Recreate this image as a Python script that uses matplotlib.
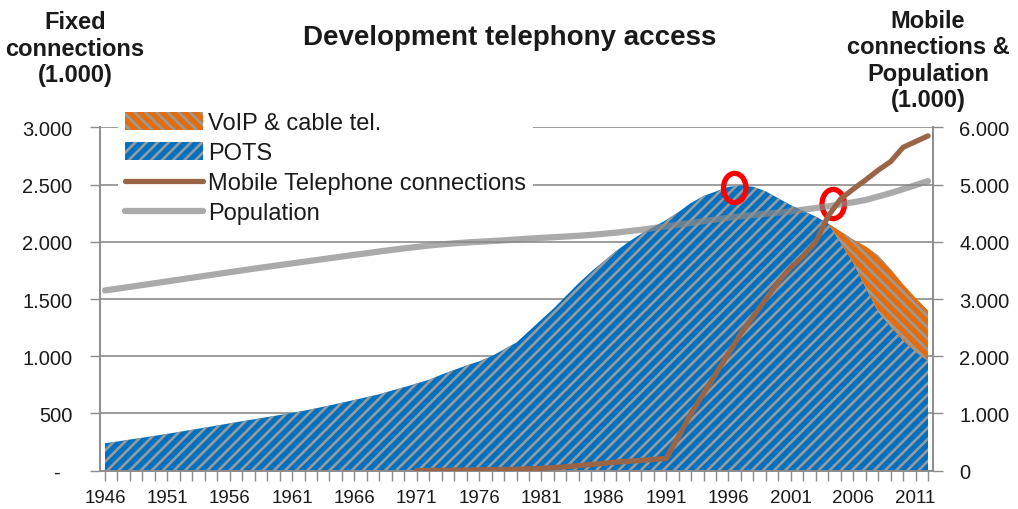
import numpy as np
import matplotlib
matplotlib.use("Agg")
import matplotlib.pyplot as plt
from matplotlib.patches import Ellipse
from matplotlib.ticker import FuncFormatter, MultipleLocator, FixedLocator

plt.rcParams['font.family'] = ['Liberation Sans', 'DejaVu Sans']
plt.rcParams['hatch.color'] = '#9A9A9A'
plt.rcParams['hatch.linewidth'] = 1.9

years = list(range(1946, 2013))

# Fixed lines: plain old telephone service (thousands)
pots = [240, 255, 272, 288, 305, 322, 340, 358, 376, 395,
        414, 432, 450, 468, 486, 504, 525, 547, 570, 594,
        618, 643, 668, 700, 730, 762, 795, 840, 880, 920,
        955, 1000, 1060, 1120, 1220, 1320, 1420, 1530, 1640, 1740,
        1830, 1920, 2000, 2070, 2130, 2190, 2260, 2340, 2400, 2440,
        2480, 2492, 2480, 2440, 2380, 2320, 2270, 2220, 2160, 1990,
        1820, 1600, 1390, 1260, 1140, 1040, 960]

# VoIP & cable telephony (thousands), reported from 2004 onwards
voip_years = list(range(2004, 2013))
voip = [0, 100, 200, 360, 490, 500, 490, 470, 440]

# Mobile telephone connections (thousands), from 1971
mobile_years = list(range(1971, 2013))
mobile = [0, 3, 6, 9, 12, 15, 18, 22, 27, 33,
          40, 55, 70, 90, 110, 130, 150, 165, 180, 198,
          215, 600, 1000, 1350, 1700, 2050, 2400, 2700, 3000, 3300,
          3550, 3750, 4000, 4450, 4750, 4920, 5080, 5250, 5400, 5650,
          5750, 5850]

# Population (thousands)
population = [3150, 3180, 3212, 3244, 3276, 3308, 3340, 3372, 3404, 3436,
              3468, 3500, 3532, 3562, 3592, 3622, 3652, 3682, 3712, 3742,
              3772, 3800, 3830, 3858, 3885, 3910, 3935, 3955, 3972, 3988,
              4000, 4012, 4025, 4040, 4055, 4068, 4080, 4092, 4105, 4120,
              4140, 4160, 4185, 4210, 4240, 4270, 4300, 4330, 4360, 4390,
              4420, 4445, 4470, 4490, 4510, 4530, 4560, 4590, 4620, 4655,
              4690, 4730, 4790, 4850, 4920, 4990, 5060]

# Highlighted moments: fixed-line peak and mobile overtaking fixed
highlight_years = [1996.5, 2004.4]
highlight_fixed = [2470, 2330]

year_labels = [str(y) for y in range(1946, 2013, 5)]

BLUE = '#0070C0'
ORANGE = '#E46C0A'
BROWN = '#9A6546'
GRID = '#8C8C8C'
TEXT = '#1A1A1A'

fig = plt.figure(figsize=(10.18, 5.10), dpi=100)
ax = fig.add_axes([100 / 1018, (510 - 471.7) / 510, (933 - 100) / 1018, (471.7 - 128.3) / 510])
ax2 = ax.twinx()

pots_arr = np.array(pots, dtype=float)
yrs = np.array(years)
ax.fill_between(yrs, 0, pots_arr, facecolor=BLUE, edgecolor='#9A9A9A', linewidth=0,
                hatch='///', label='POTS', zorder=2)
base = pots_arr[yrs >= 2004]
ax.fill_between(voip_years, base, base + np.array(voip), facecolor=ORANGE,
                edgecolor='#9A9A9A', linewidth=0, hatch='\\\\\\', label='VoIP & cable tel.', zorder=2)

for hx, hy in zip(highlight_years, highlight_fixed):
    ax.add_patch(Ellipse((hx, hy), 1.8, 255, fill=False, edgecolor='#FF0000',
                         linewidth=3.8, zorder=6))

ax.set_xlim(1945.6, 2012.4)
ax.set_ylim(0, 3000)
ax2.set_ylim(0, 6000)

mob_line, = ax2.plot(mobile_years, mobile, color=BROWN, linewidth=3.8,
                     solid_capstyle='round', label='Mobile Telephone connections', zorder=3)
pop_line, = ax2.plot(years, population, color='#8A8A8A', alpha=0.72, linewidth=4.5,
                     solid_capstyle='round', label='Population', zorder=2)

# Axes styling
for a in (ax, ax2):
    a.spines['top'].set_visible(False)
    for s in ('left', 'right', 'bottom'):
        a.spines[s].set_color(GRID)
        a.spines[s].set_linewidth(1.2)

ax.yaxis.set_major_locator(MultipleLocator(500))
ax.yaxis.set_major_formatter(FuncFormatter(
    lambda v, p: '-  ' if v == 0 else f'{int(v):,}'.replace(',', '.')))
ax2.yaxis.set_major_locator(MultipleLocator(1000))
ax2.yaxis.set_major_formatter(FuncFormatter(
    lambda v, p: f'{int(v):,}'.replace(',', '.')))

ax.grid(axis='y', color=GRID, linewidth=1.2, zorder=0)
ax.set_axisbelow(True)

ax.xaxis.set_major_locator(FixedLocator(list(range(1946, 2013, 5))))
ax.set_xticklabels(year_labels)
ax.xaxis.set_minor_locator(FixedLocator(years))
ax.tick_params(axis='x', which='both', direction='out', length=7, width=1, color=GRID,
               labelsize=13.5, pad=6, labelcolor=TEXT)
ax.tick_params(axis='y', direction='out', length=7, width=1, color=GRID,
               labelsize=14.5, pad=13, labelcolor=TEXT)
ax2.tick_params(axis='y', direction='out', length=7, width=1, color=GRID,
                labelsize=14.5, pad=12, labelcolor=TEXT)

# Legend
h1, l1 = ax.get_legend_handles_labels()
handles = [h1[1], h1[0], mob_line, pop_line]
labels = [l1[1], l1[0], 'Mobile Telephone connections', 'Population']
leg = ax2.legend(handles, labels, loc='upper left',
                 bbox_to_anchor=(118 / 1018, 1 - 106 / 510), bbox_transform=fig.transFigure,
                 frameon=True, facecolor='white', edgecolor='none', framealpha=1,
                 fontsize=17, handlelength=3.3, handleheight=0.8, handletextpad=0.2,
                 labelspacing=0.33, borderpad=0.3, borderaxespad=0)
for t in leg.get_texts():
    t.set_color(TEXT)

fig.text(510 / 1018, 1 - 38 / 510, 'Development telephony access', ha='center', va='center',
         fontsize=20, fontweight='bold', color=TEXT)
fig.text(75 / 1018, 1 - 49 / 510, 'Fixed\nconnections\n(1.000)', ha='center', va='center',
         fontsize=17, fontweight='bold', color=TEXT, linespacing=1.17)
fig.text(928 / 1018, 1 - 61 / 510, 'Mobile\nconnections &\nPopulation\n(1.000)', ha='center',
         va='center', fontsize=17, fontweight='bold', color=TEXT, linespacing=1.2)

fig.savefig('out.png', dpi=100)
